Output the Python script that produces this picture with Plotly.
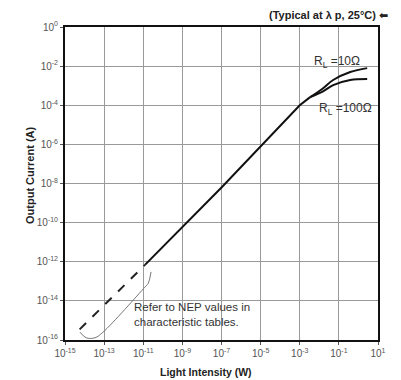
import plotly.graph_objects as go

# ---- data ----
x_ticks = [1e-15, 1e-13, 1e-11, 1e-9, 1e-7, 1e-5, 1e-3, 1e-1, 1e1]
x_tick_text = ["10<sup>-15</sup>", "10<sup>-13</sup>", "10<sup>-11</sup>", "10<sup>-9</sup>",
               "10<sup>-7</sup>", "10<sup>-5</sup>", "10<sup>-3</sup>", "10<sup>-1</sup>", "10<sup>1</sup>"]
y_ticks = [1e0, 1e-2, 1e-4, 1e-6, 1e-8, 1e-10, 1e-12, 1e-14, 1e-16]
y_tick_text = ["10<sup>0</sup>", "10<sup>-2</sup>", "10<sup>-4</sup>", "10<sup>-6</sup>", "10<sup>-8</sup>",
               "10<sup>-10</sup>", "10<sup>-12</sup>", "10<sup>-14</sup>", "10<sup>-16</sup>"]

dashed_x = [5.6e-15, 1.26e-11]
dashed_y = [3.5e-16, 7.1e-13]

common_x = [1.26e-11, 1e-7, 1e-3, 3.4e-3]
common_y = [7.1e-13, 6.3e-9, 1.0e-4, 2.6e-4]

rl10_x = [3.4e-3, 1.4e-2, 5.1e-2, 0.38, 2.8]
rl10_y = [2.6e-4, 6.8e-4, 1.95e-3, 5.0e-3, 7.9e-3]

rl100_x = [3.4e-3, 1.4e-2, 5.1e-2, 0.38, 2.8]
rl100_y = [2.6e-4, 4.8e-4, 1.07e-3, 1.95e-3, 2.2e-3]

nep_x = [5.9e-15, 1.2e-14, 3.4e-14, 8.7e-14, 1.2e-11, 1.8e-11, 2.5e-11]
nep_y = [2.5e-16, 1.3e-16, 1.3e-16, 2.5e-16, 5.0e-14, 7.9e-14, 3.0e-13]

fig = go.Figure()

fig.add_trace(go.Scatter(x=dashed_x, y=dashed_y, mode="lines",
                         line=dict(color="#222", width=2, dash="dash"), showlegend=False))
fig.add_trace(go.Scatter(x=common_x, y=common_y, mode="lines",
                         line=dict(color="#111", width=2), showlegend=False))
fig.add_trace(go.Scatter(x=rl10_x, y=rl10_y, mode="lines",
                         line=dict(color="#111", width=2, shape="spline"), showlegend=False))
fig.add_trace(go.Scatter(x=rl100_x, y=rl100_y, mode="lines",
                         line=dict(color="#111", width=2, shape="spline"), showlegend=False))
fig.add_trace(go.Scatter(x=nep_x, y=nep_y, mode="lines",
                         line=dict(color="#777", width=1, shape="spline"), showlegend=False))

font = "Liberation Sans, Arial, sans-serif"

axis_common = dict(type="log", showgrid=True, gridcolor="#9a9a9a", gridwidth=1.3,
                   showline=True, linecolor="#111", linewidth=2, mirror=True,
                   ticks="outside", ticklen=3, tickcolor="#555", zeroline=False,
                   tickfont=dict(family=font, size=10, color="#555"))

fig.update_xaxes(range=[-15, 1], tickvals=x_ticks, ticktext=x_tick_text, **axis_common)
fig.update_yaxes(range=[-16, 0], tickvals=y_ticks, ticktext=y_tick_text, **axis_common)

fig.add_annotation(xref="paper", yref="paper", x=0.214, y=0.081, xanchor="left", yanchor="middle",
                   text="Refer to NEP values in<br>characteristic tables.", showarrow=False, align="left",
                   font=dict(family=font, size=11.5, color="#333"))
fig.add_annotation(xref="paper", yref="paper", x=0.789, y=0.888, xanchor="left", yanchor="middle",
                   text="R<sub>L</sub> =10Ω", showarrow=False,
                   font=dict(family=font, size=12, color="#333"))
fig.add_annotation(xref="paper", yref="paper", x=0.805, y=0.738, xanchor="left", yanchor="middle",
                   text="R<sub>L</sub> =100Ω", showarrow=False,
                   font=dict(family=font, size=12, color="#333"))
fig.add_annotation(xref="paper", yref="paper", x=1.038, y=1.038, xanchor="right", yanchor="middle",
                   text="<b>(Typical at λ p, 25°C) <span style='font-family:DejaVu Sans'>⬅</span></b>",
                   showarrow=False, font=dict(family=font, size=11, color="#222"))
fig.add_annotation(xref="paper", yref="paper", x=0.45, y=-0.102, xanchor="center", yanchor="middle",
                   text="<b>Light Intensity (W)</b>", showarrow=False,
                   font=dict(family=font, size=10.5, color="#222"))
fig.add_annotation(xref="paper", yref="paper", x=-0.112, y=0.527, xanchor="center", yanchor="middle",
                   text="<b>Output Current (A)</b>", showarrow=False, textangle=-90,
                   font=dict(family=font, size=11, color="#222"))

fig.update_layout(width=401, height=380, margin=dict(l=65, r=23, t=27, b=40),
                  plot_bgcolor="white", paper_bgcolor="white", showlegend=False)

fig.write_html("out.html", config={"displayModeBar": False},
               post_script="document.body.style.margin='0';")
